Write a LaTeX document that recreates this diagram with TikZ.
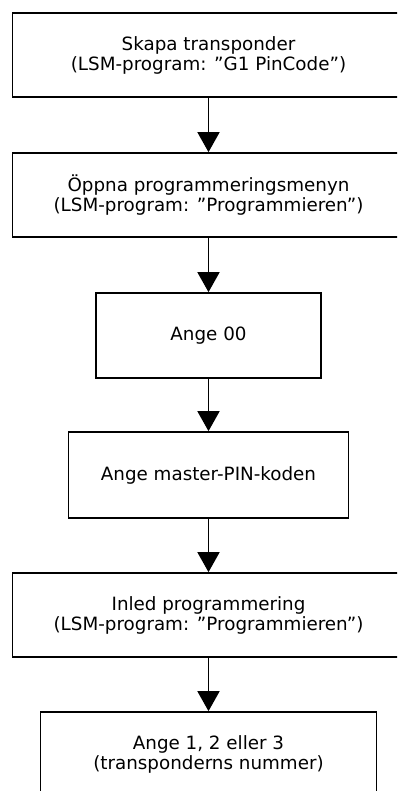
\documentclass[tikz,border=0pt]{standalone}
\usepackage{fontspec}
\setmainfont{DejaVu Sans}
\usetikzlibrary{arrows.meta}
\begin{document}
\begin{tikzpicture}[x=1pt,y=-1pt,
  stepbox/.style={draw=black,line width=1.7pt,align=center,inner sep=0pt,
    font=\fontsize{18.3}{20}\selectfont},
  flow/.style={line width=1.7pt,-{Triangle[width=22pt,length=20pt]}}]
\useasboundingbox (0,0) rectangle (397,791);
\clip (0,0) rectangle (397,791);
\node[stepbox,minimum width=392pt,minimum height=84pt] (b1) at (208.5,55) {Skapa transponder\\(LSM-program: ”G1 PinCode”)};
\node[stepbox,minimum width=392pt,minimum height=84pt] (b2) at (208.5,195) {Öppna programmeringsmenyn\\(LSM-program: ”Programmieren”)};
\node[stepbox,minimum width=225pt,minimum height=85pt] (b3) at (208.5,335.5) {Ange 00};
\node[stepbox,minimum width=280pt,minimum height=86pt] (b4) at (208.5,475) {Ange master-PIN-koden};
\node[stepbox,minimum width=392pt,minimum height=84pt] (b5) at (208.5,615) {Inled programmering\\(LSM-program: ”Programmieren”)};
\node[stepbox,minimum width=336pt,minimum height=85pt] (b6) at (208.5,754.5) {Ange 1, 2 eller 3\\(transponderns nummer)};
\draw[flow] (b1.south) -- (b2.north);
\draw[flow] (b2.south) -- (b3.north);
\draw[flow] (b3.south) -- (b4.north);
\draw[flow] (b4.south) -- (b5.north);
\draw[flow] (b5.south) -- (b6.north);
\end{tikzpicture}
\end{document}
